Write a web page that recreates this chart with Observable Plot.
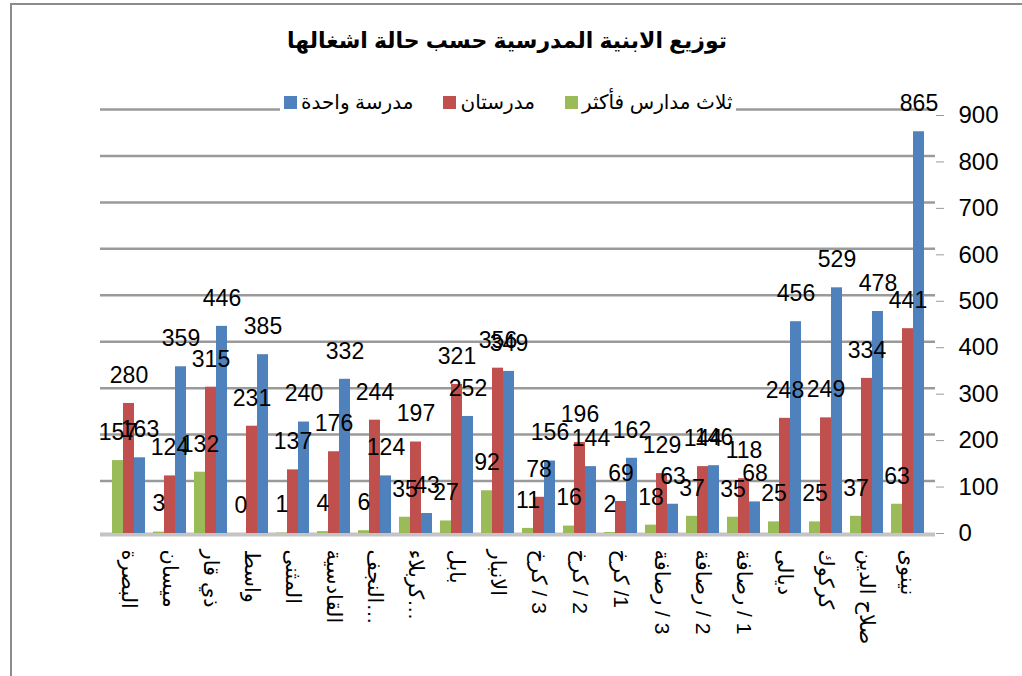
<!DOCTYPE html>
<html>
<head>
<meta charset="utf-8">
<script src="https://cdn.jsdelivr.net/npm/d3@7"></script>
<script src="https://cdn.jsdelivr.net/npm/@observablehq/plot@0.6"></script>
<style>
  body { margin: 0; background: #fff; font-family: "Liberation Sans", "DejaVu Sans", sans-serif; }
  #wrap { position: relative; width: 1022px; height: 676px; overflow: hidden; }
  #border { position: absolute; left: 10px; top: 3px; width: 1100px; height: 800px; border-left: 2px solid #8c8c8c; border-top: 2px solid #8c8c8c; }
  #title { position: absolute; left: 0; width: 1014px; top: 28px; text-align: center; font-weight: bold; font-size: 22px; color: #000; direction: rtl; }
  #legend { position: absolute; top: 90px; left: 280px; display: flex; direction: rtl; gap: 30px; font-size: 20px; background: #fff; padding: 0 4px; }
  .item { display: flex; align-items: center; gap: 4px; }
  .sw { width: 13px; height: 13px; display: inline-block; }
  #chart { position: absolute; left: 0; top: 0; }
</style>
</head>
<body>
<div id="wrap">
  <div id="border"></div>
  <div id="chart"></div>
  <div id="title"></div>
  <div id="legend"></div>
</div>
<script>
const categories = ["البصرة","ميسان","ذي قار","واسط","المثنى","القادسية","النجف…","كربلاء…","بابل","الانبار","كرخ\u200E / 3","كرخ\u200E / 2","كرخ\u200E /1","رصافة\u200E / 3","رصافة\u200E / 2","رصافة\u200E / 1","ديالى","كركوك","صلاح الدين","نينوى"];
const seriesNames = ["ثلاث مدارس فأكثر","مدرستان","مدرسة واحدة"];
const seriesColors = ["#9BBB59","#C0504D","#4F81BD"];
const threeOrMore = [157,3,132,0,1,4,6,35,27,92,11,16,2,18,37,35,25,25,37,63];
const twoSchools  = [280,124,315,231,137,176,244,197,321,356,78,196,69,129,144,118,248,249,334,441];
const oneSchool   = [163,359,446,385,240,332,124,43,252,349,156,144,162,63,146,68,456,529,478,865];
const yTicks = [0,100,200,300,400,500,600,700,800,900];
const titleText = "توزيع الابنية المدرسية حسب حالة اشغالها";

document.getElementById("title").textContent = titleText;
const legend = document.getElementById("legend");
seriesNames.forEach((n, i) => {
  const it = document.createElement("div"); it.className = "item";
  const t = document.createElement("span"); t.textContent = n;
  const s = document.createElement("span"); s.className = "sw"; s.style.background = seriesColors[i];
  it.appendChild(t); it.appendChild(s); legend.appendChild(it);
});

const seriesValues = [threeOrMore, twoSchools, oneSchool];
const offsets = [-11, 0, 11];
const tables = seriesValues.map(vals => categories.map((c, i) => ({cat: c, v: vals[i]})));

const marks = [
  Plot.ruleY(yTicks.filter(d => d > 0), {dy: -6, stroke: "#9a9a9a", strokeWidth: 2.5}),
  Plot.ruleY([0], {stroke: "#c4c4c4", strokeWidth: 4, dy: 1}),
];
tables.forEach((t, i) => {
  marks.push(Plot.barY(t, {x: "cat", y: "v", fill: seriesColors[i], dx: offsets[i]}));
});
tables.forEach((t, i) => {
  marks.push(Plot.text(t, {x: "cat", y: "v", text: d => String(d.v), dx: offsets[i], dy: -28, fontSize: 23, fill: "#000"}));
});
marks.push(Plot.axisY({anchor: "right", ticks: yTicks, tickSize: 8, tickPadding: 15, fontSize: 24, label: null, line: true, stroke: "#9a9a9a", color: "#000"}));
marks.push(Plot.axisX({anchor: "bottom", tickRotate: 90, tickSize: 0, tickPadding: 16, fontSize: 21, label: null, color: "#000"}));

const chart = Plot.plot({
  width: 1022,
  height: 676,
  marginLeft: 100,
  marginRight: 87,
  marginTop: 115,
  marginBottom: 143,
  style: {background: "transparent", fontFamily: "'Liberation Sans', 'DejaVu Sans', sans-serif", color: "#000"},
  x: {domain: categories, paddingInner: 0.734, paddingOuter: 0.452},
  y: {domain: [0, 900]},
  marks
});
document.getElementById("chart").appendChild(chart);
</script>
</body>
</html>
